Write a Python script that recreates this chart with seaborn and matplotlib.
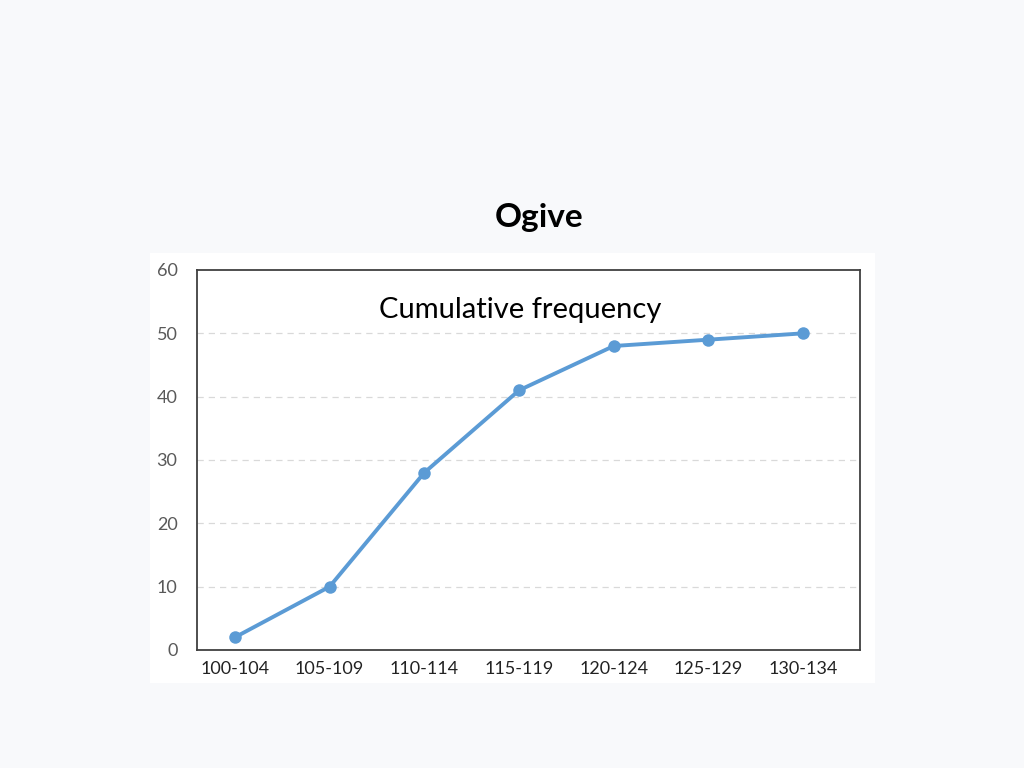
import matplotlib
matplotlib.use("Agg")
import matplotlib.pyplot as plt
from matplotlib.patches import Rectangle
import seaborn as sns
import pandas as pd

# class intervals and their cumulative frequencies
classes = ["100-104", "105-109", "110-114", "115-119", "120-124", "125-129", "130-134"]
cum_freq = [2, 10, 28, 41, 48, 49, 50]
y_ticks = [0, 10, 20, 30, 40, 50, 60]

df = pd.DataFrame({"pos": range(len(classes)), "freq": cum_freq})

sns.set_theme(style="white")
plt.rcParams["font.family"] = ["Lato", "DejaVu Sans"]

fig = plt.figure(figsize=(10.24, 7.68), dpi=100)
fig.patch.set_facecolor("#f8f9fb")

# white slide panel behind the chart
W, H = 1024, 768
fig.patches.append(Rectangle((150 / W, 1 - 683 / H), 725 / W, 430 / H,
                             transform=fig.transFigure, facecolor="white",
                             edgecolor="none", zorder=-5))

ax = fig.add_axes([197 / W, 1 - 650 / H, 663 / W, 380 / H])
ax.set_zorder(2)
ax.set_facecolor("white")

sns.lineplot(data=df, x="pos", y="freq", ax=ax, color="#5b9bd5", linewidth=2.8,
             marker="o", markersize=9, markeredgewidth=0, zorder=3)

ax.set_xlim(-0.4, 6.6)
ax.set_ylim(0, 60)
ax.set_xticks(range(len(classes)))
ax.set_xticklabels(classes, fontsize=13, color="#222222")
ax.set_yticks(y_ticks)
ax.set_yticklabels([str(v) for v in y_ticks], fontsize=13, color="#595959")
ax.tick_params(axis="both", length=0)
ax.tick_params(axis="y", pad=14)
ax.tick_params(axis="x", pad=8)
ax.set_xlabel("")
ax.set_ylabel("")

for v in y_ticks[1:-1]:
    ax.axhline(v, color="#d9d9d9", linestyle=(0, (5, 4)), linewidth=0.9, zorder=1)

for s in ax.spines.values():
    s.set_visible(True)
    s.set_color("#404040")
    s.set_linewidth(1.3)

ax.text(0.488, 0.895, "Cumulative frequency", transform=ax.transAxes,
        ha="center", va="center", fontsize=21, color="black")

fig.text(539 / W, 1 - 218 / H, "Ogive", ha="center", va="center",
         fontsize=24, fontweight="bold", color="black")

plt.savefig("out.png", dpi=100, facecolor=fig.get_facecolor())
